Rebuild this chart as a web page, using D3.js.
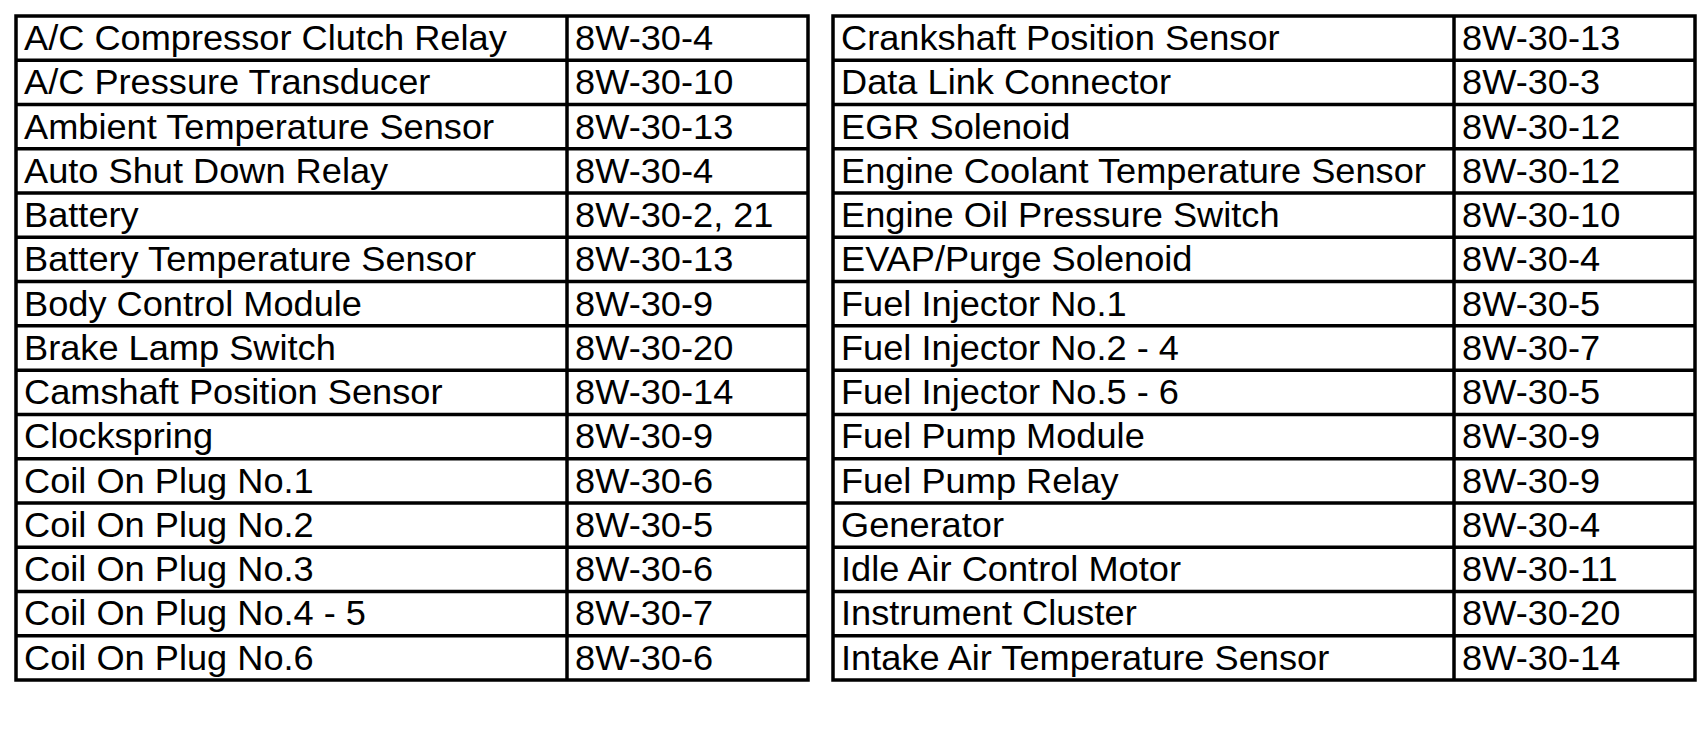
<!DOCTYPE html>
<html>
<head>
<meta charset="utf-8">
<script src="https://cdn.jsdelivr.net/npm/d3@7"></script>
<style>
  body { margin: 0; background: #fff; }
  svg { display: block; }
  .cell-text { font-family: "Liberation Sans", Arial, sans-serif; font-size: 35.5px; fill: #000; }
  .grid line, .grid rect { stroke: #000; stroke-width: 3.5; fill: none; }
</style>
</head>
<body>
<div id="vis"></div>
<script>
// Left table
const leftNames = [
    "A/C Compressor Clutch Relay",
    "A/C Pressure Transducer",
    "Ambient Temperature Sensor",
    "Auto Shut Down Relay",
    "Battery",
    "Battery Temperature Sensor",
    "Body Control Module",
    "Brake Lamp Switch",
    "Camshaft Position Sensor",
    "Clockspring",
    "Coil On Plug No.1",
    "Coil On Plug No.2",
    "Coil On Plug No.3",
    "Coil On Plug No.4 - 5",
    "Coil On Plug No.6"
];
const leftRefs = [
    "8W-30-4", "8W-30-10", "8W-30-13", "8W-30-4", "8W-30-2, 21",
    "8W-30-13", "8W-30-9", "8W-30-20", "8W-30-14", "8W-30-9",
    "8W-30-6", "8W-30-5", "8W-30-6", "8W-30-7", "8W-30-6"
];

// Right table
const rightNames = [
    "Crankshaft Position Sensor",
    "Data Link Connector",
    "EGR Solenoid",
    "Engine Coolant Temperature Sensor",
    "Engine Oil Pressure Switch",
    "EVAP/Purge Solenoid",
    "Fuel Injector No.1",
    "Fuel Injector No.2 - 4",
    "Fuel Injector No.5 - 6",
    "Fuel Pump Module",
    "Fuel Pump Relay",
    "Generator",
    "Idle Air Control Motor",
    "Instrument Cluster",
    "Intake Air Temperature Sensor"
];
const rightRefs = [
    "8W-30-13", "8W-30-3", "8W-30-12", "8W-30-12", "8W-30-10",
    "8W-30-4", "8W-30-5", "8W-30-7", "8W-30-5", "8W-30-9",
    "8W-30-9", "8W-30-4", "8W-30-11", "8W-30-20", "8W-30-14"
];

const W = 1706, H = 736;
const gridTop = 16, gridBottom = 680;
const pad = 8, baselineOffset = 34;

const tables = [
    { names: leftNames, refs: leftRefs, x0: 16, x1: 567, x2: 808 },
    { names: rightNames, refs: rightRefs, x0: 833, x1: 1454, x2: 1695 }
];

const svg = d3.select("#vis").append("svg")
    .attr("width", W)
    .attr("height", H);

const y = d3.scaleLinear()
    .domain([0, leftNames.length])
    .range([gridTop, gridBottom]);

const textLayer = svg.append("g");
const gridLayer = svg.append("g").attr("class", "grid");

const allText = [];
tables.forEach(t => {
    t.names.forEach((name, i) => {
        allText.push({ text: name, x: t.x0 + pad, row: i });
        allText.push({ text: t.refs[i], x: t.x1 + pad, row: i });
    });
});

const texts = textLayer.selectAll("text")
    .data(allText)
    .enter()
    .append("text")
    .attr("class", "cell-text")
    .text(d => d.text);

// widest string in the picture spans about 585px
const probe = texts.filter(d => d.text === "Engine Coolant Temperature Sensor").node();
const stretch = 585 / probe.getComputedTextLength();

texts.attr("transform", d => `translate(${d.x},${y(d.row) + baselineOffset}) scale(${stretch},1)`);

tables.forEach(t => {
    gridLayer.append("rect")
        .attr("x", t.x0)
        .attr("y", gridTop)
        .attr("width", t.x2 - t.x0)
        .attr("height", gridBottom - gridTop);

    gridLayer.append("line")
        .attr("x1", t.x1).attr("x2", t.x1)
        .attr("y1", gridTop).attr("y2", gridBottom);

    gridLayer.selectAll(null)
        .data(d3.range(1, t.names.length))
        .enter()
        .append("line")
        .attr("x1", t.x0).attr("x2", t.x2)
        .attr("y1", d => y(d)).attr("y2", d => y(d));
});
</script>
</body>
</html>
